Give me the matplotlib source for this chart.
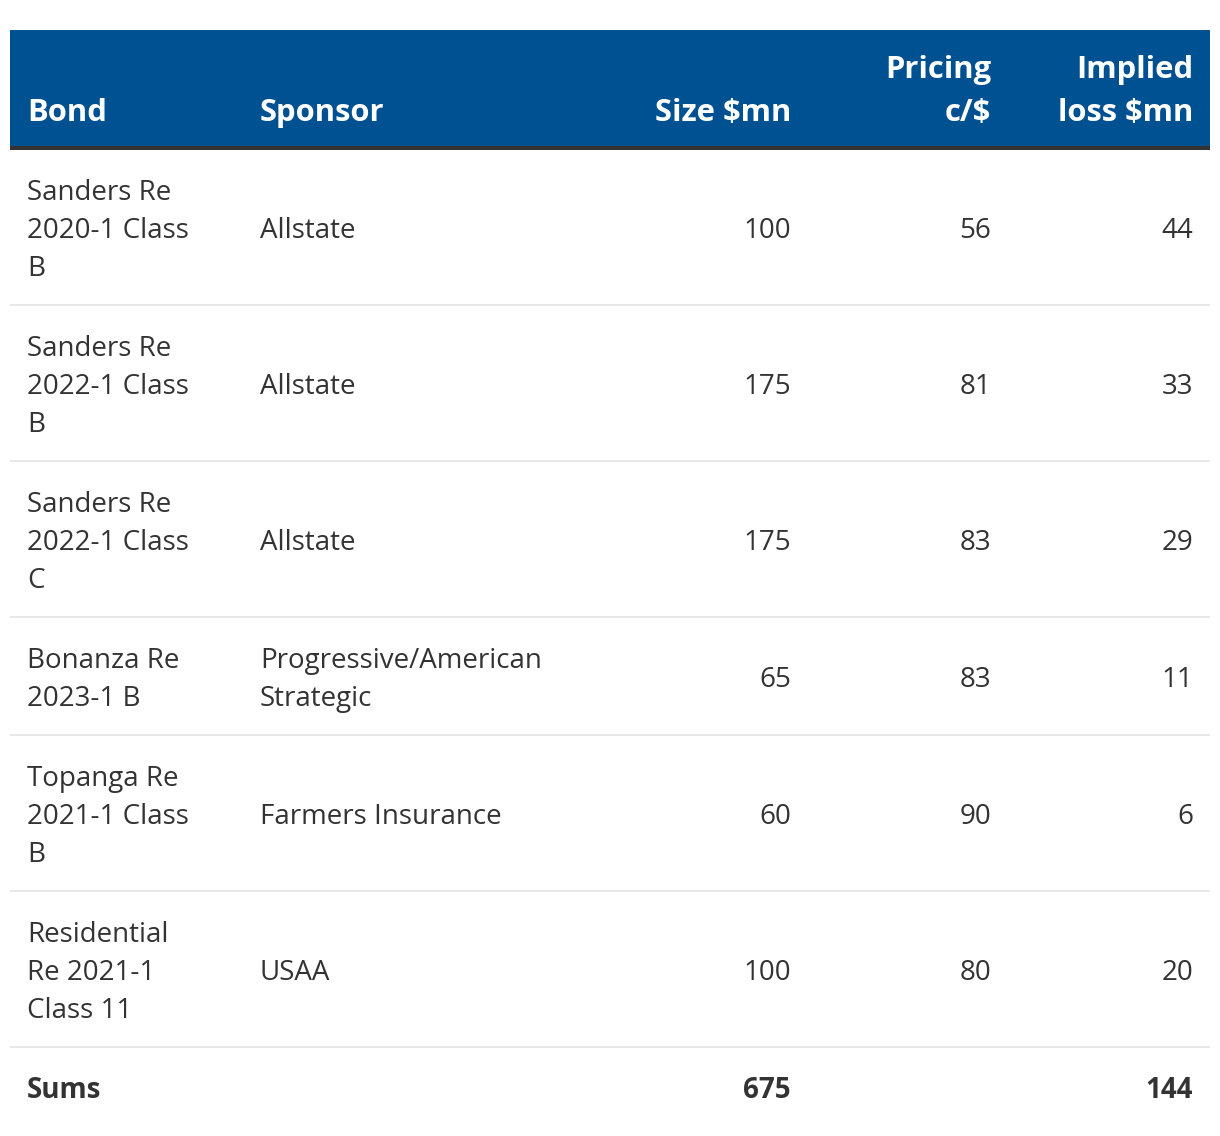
import matplotlib.pyplot as plt
from matplotlib.patches import Rectangle

plt.rcParams['font.family'] = ['Open Sans', 'DejaVu Sans']

headers = ["Bond", "Sponsor", "Size $mn", "Pricing\nc/$", "Implied\nloss $mn"]
bonds = ["Sanders Re\n2020-1 Class\nB", "Sanders Re\n2022-1 Class\nB", "Sanders Re\n2022-1 Class\nC",
         "Bonanza Re\n2023-1 B", "Topanga Re\n2021-1 Class\nB", "Residential\nRe 2021-1\nClass 11"]
sponsors = ["Allstate", "Allstate", "Allstate", "Progressive/American\nStrategic",
            "Farmers Insurance", "USAA"]
sizes = [100, 175, 175, 65, 60, 100]
pricing = [56, 81, 83, 83, 90, 80]
implied_loss = [44, 33, 29, 11, 6, 20]
sums = ["Sums", "", "675", "", "144"]

W, H = 1220, 1136
FS = 20.0   # body font, pt (~28px)
HFS = 22.3  # header font, pt
LH = 38     # body line height, px
HLH = 43    # header line height, px
TXT = '#333333'

# column anchor x and alignment
col_x = [27, 260, 791, 991, 1193]
col_ha = ['left', 'left', 'right', 'right', 'right']

fig = plt.figure(figsize=(W / 100, H / 100), dpi=100)
ax = fig.add_axes([0, 0, 1, 1])
ax.set_xlim(0, W)
ax.set_ylim(H, 0)
ax.axis('off')


def draw_cell(x, ha, lines, center, color=TXT, weight='normal'):
    lines = lines.split('\n')
    n = len(lines)
    base0 = center - (n - 1) * LH / 2 + 11
    for i, ln in enumerate(lines):
        ax.text(x, base0 + i * LH, ln, ha=ha, va='baseline', fontsize=FS,
                color=color, fontweight=weight)


# header
ax.add_patch(Rectangle((10, 30), 1200, 116, facecolor='#005192', edgecolor='none'))
ax.add_patch(Rectangle((10, 146), 1200, 4, facecolor='#333333', edgecolor='none'))
for x, ha, h in zip(col_x, col_ha, headers):
    lines = h.split('\n')
    # bottom-aligned, last baseline at y=120
    for i, ln in enumerate(reversed(lines)):
        ax.text(x, 121 - i * HLH, ln, ha=ha, va='baseline', fontsize=HFS,
                color='white', fontweight='bold')

# body rows
y = 150
pad = 40
for b, s, sz, p, l in zip(bonds, sponsors, sizes, pricing, implied_loss):
    cells = [b, s, str(sz), str(p), str(l)]
    n = max(len(c.split('\n')) for c in cells)
    h = n * LH + pad
    center = y + h / 2
    for x, ha, c in zip(col_x, col_ha, cells):
        draw_cell(x, ha, c, center)
    y += h
    ax.add_patch(Rectangle((10, y), 1200, 2, facecolor='#e8e8e8', edgecolor='none'))
    y += 2

# sums row
center = y + (LH + pad) / 2
for x, ha, c in zip(col_x, col_ha, sums):
    if c:
        draw_cell(x, ha, c, center, weight='bold')

fig.savefig('out.png', dpi=100, facecolor='white')
